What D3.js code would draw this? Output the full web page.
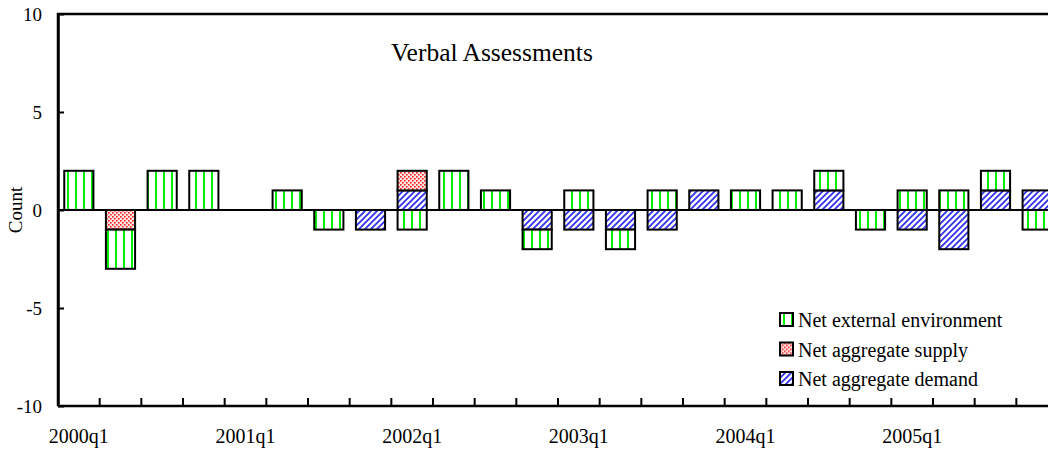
<!DOCTYPE html>
<html>
<head>
<meta charset="utf-8">
<script src="https://cdn.jsdelivr.net/npm/d3@7"></script>
<style>
  body { margin: 0; background: #fff; }
  svg { display: block; }
  text { font-family: "Liberation Serif", "Times New Roman", serif; fill: #000; }
</style>
</head>
<body>
<svg id="chart" width="1048" height="453"></svg>
<script>
// data
let quarters = [];
for (let y = 2000; y <= 2005; y++) {
    for (let q = 1; q <= 4; q++) quarters.push(y + "q" + q);
}
let external = [2, -2, 2, 2, 0, 1, -1, 0, -1, 2, 1, -1, 1, -1, 1, 0, 1, 1, 1, -1, 1, 1, 1, -1];
let supply   = [0, -1, 0, 0, 0, 0, 0, 0, 1, 0, 0, 0, 0, 0, 0, 0, 0, 0, 0, 0, 0, 0, 0, 0];
let demand   = [0, 0, 0, 0, 0, 0, 0, -1, 1, 0, 0, -1, -1, -1, -1, 1, 0, 0, 1, 0, -1, -2, 1, 1];
let yTicks = [-10, -5, 0, 5, 10];

let seriesKeys = ["demand", "supply", "external"];
let seriesNames = {
    external: "Net external environment",
    supply: "Net aggregate supply",
    demand: "Net aggregate demand"
};
let legendOrder = ["external", "supply", "demand"];

let rows = quarters.map((q, i) => ({
    quarter: q,
    external: external[i],
    supply: supply[i],
    demand: demand[i]
}));

let svg = d3.select("#chart");
let serif = "Liberation Serif, Times New Roman, serif";

// plot area (right edge runs past the window, like the original)
let plotLeft = 58, plotRight = 1058, plotTop = 14, plotBottom = 406;

let xScale = d3.scaleBand()
    .domain(quarters)
    .range([plotLeft, plotRight])
    .paddingInner(0.3)
    .paddingOuter(0.15);

let yScale = d3.scaleLinear()
    .domain([-10, 10])
    .range([plotBottom, plotTop]);

// fill patterns
let defs = svg.append("defs");

let pGreen = defs.append("pattern")
    .attr("id", "pat-external")
    .attr("patternUnits", "userSpaceOnUse")
    .attr("width", 8).attr("height", 8);
pGreen.append("rect").attr("width", 8).attr("height", 8).attr("fill", "#fff");
pGreen.append("rect").attr("x", 3).attr("width", 2).attr("height", 8).attr("fill", "#00f000");

let pRed = defs.append("pattern")
    .attr("id", "pat-supply")
    .attr("patternUnits", "userSpaceOnUse")
    .attr("width", 4).attr("height", 4);
pRed.append("rect").attr("width", 4).attr("height", 4).attr("fill", "#ffe4e4");
pRed.append("rect").attr("x", 0).attr("y", 0).attr("width", 1.6).attr("height", 1.6).attr("fill", "#ff2020");
pRed.append("rect").attr("x", 2).attr("y", 2).attr("width", 1.6).attr("height", 1.6).attr("fill", "#ff2020");

let pBlue = defs.append("pattern")
    .attr("id", "pat-demand")
    .attr("patternUnits", "userSpaceOnUse")
    .attr("width", 6).attr("height", 6);
pBlue.append("rect").attr("width", 6).attr("height", 6).attr("fill", "#fff");
pBlue.append("path")
    .attr("d", "M0,6L6,0M-1,1L1,-1M5,7L7,5")
    .attr("stroke", "#3030f0")
    .attr("stroke-width", 1.8);

// stacked bars
let stack = d3.stack()
    .keys(seriesKeys)
    .offset(d3.stackOffsetDiverging);
let stacked = stack(rows);

let barGroup = svg.append("g");
stacked.forEach(layer => {
    barGroup.selectAll(".bar-" + layer.key)
        .data(layer.filter(d => d[0] !== d[1]))
        .enter()
        .append("rect")
        .attr("class", "bar-" + layer.key)
        .attr("x", d => xScale(d.data.quarter))
        .attr("width", xScale.bandwidth())
        .attr("y", d => yScale(Math.max(d[0], d[1])))
        .attr("height", d => Math.abs(yScale(d[0]) - yScale(d[1])))
        .attr("fill", "url(#pat-" + layer.key + ")")
        .attr("stroke", "#000")
        .attr("stroke-width", 2);
});

// zero line
svg.append("line")
    .attr("x1", plotLeft).attr("x2", plotRight)
    .attr("y1", yScale(0)).attr("y2", yScale(0))
    .attr("stroke", "#000").attr("stroke-width", 2);

// frame: left and top
svg.append("path")
    .attr("d", `M${plotLeft},${plotBottom}V${plotTop}H${plotRight}`)
    .attr("fill", "none")
    .attr("stroke", "#000").attr("stroke-width", 2.5);

// y axis
let yAxis = d3.axisLeft(yScale)
    .tickValues(yTicks)
    .tickFormat(d => String(d))
    .tickSizeInner(-6)
    .tickSizeOuter(0)
    .tickPadding(16);
let yAxisGroup = svg.append("g")
    .attr("transform", `translate(${plotLeft},0)`)
    .call(yAxis)
    .attr("font-family", serif)
    .attr("font-size", 19);
yAxisGroup.select(".domain").attr("stroke-width", 2.5);
yAxisGroup.selectAll(".tick line").attr("stroke-width", 2);
yAxisGroup.selectAll(".tick text").attr("fill", "#000");

// x axis: ticks between quarters, labels on first quarters
let xAxisGroup = svg.append("g");
xAxisGroup.append("line")
    .attr("x1", plotLeft).attr("x2", plotRight)
    .attr("y1", plotBottom).attr("y2", plotBottom)
    .attr("stroke", "#000").attr("stroke-width", 2.5);
xAxisGroup.selectAll(".xtick")
    .data(quarters.slice(1))
    .enter()
    .append("line")
    .attr("class", "xtick")
    .attr("x1", d => xScale(d) - xScale.step() * xScale.paddingInner() / 2)
    .attr("x2", d => xScale(d) - xScale.step() * xScale.paddingInner() / 2)
    .attr("y1", plotBottom).attr("y2", plotBottom - 8)
    .attr("stroke", "#000").attr("stroke-width", 2);
xAxisGroup.selectAll(".xlabel")
    .data(quarters.filter(q => q.endsWith("q1")))
    .enter()
    .append("text")
    .attr("class", "xlabel")
    .attr("x", d => xScale(d) + xScale.bandwidth() / 2)
    .attr("y", 443)
    .attr("text-anchor", "middle")
    .attr("font-family", serif)
    .attr("font-size", 20)
    .text(d => d);

// y label
svg.append("text")
    .attr("transform", "translate(22,210) rotate(-90)")
    .attr("text-anchor", "middle")
    .attr("font-family", serif)
    .attr("font-size", 19)
    .text("Count");

// title
svg.append("text")
    .attr("x", 391)
    .attr("y", 61)
    .attr("font-family", serif)
    .attr("font-size", 25.5)
    .text("Verbal Assessments");

// legend
let legend = svg.append("g").attr("transform", "translate(780,313)");
let legendItems = legend.selectAll("g")
    .data(legendOrder)
    .enter()
    .append("g")
    .attr("transform", (d, i) => `translate(0,${i * 29.5})`);
legendItems.append("rect")
    .attr("width", 13).attr("height", 13)
    .attr("fill", d => "url(#pat-" + d + ")")
    .attr("stroke", "#000").attr("stroke-width", 2);
legendItems.append("text")
    .attr("x", 18)
    .attr("y", 14)
    .attr("font-family", serif)
    .attr("font-size", 20)
    .text(d => seriesNames[d]);
</script>
</body>
</html>
